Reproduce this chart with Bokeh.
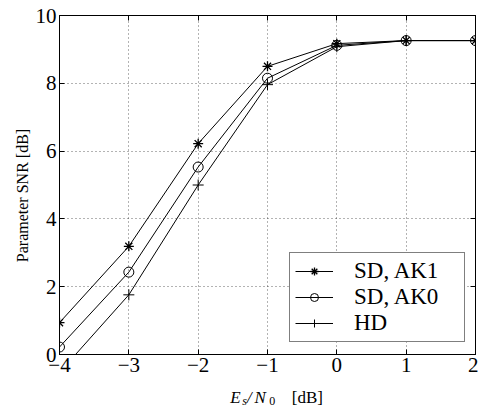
import math
from bokeh.plotting import figure
from bokeh.layouts import row, column
from bokeh.models import Range1d, LinearAxis, FixedTicker, Legend, LegendItem
from bokeh.core.properties import value
from bokeh.embed import file_html
from bokeh.resources import INLINE

x_vals = [-4, -3, -2, -1, 0, 1, 2]
sd_ak1 = [0.94, 3.19, 6.22, 8.50, 9.17, 9.26, 9.26]
sd_ak0 = [0.22, 2.43, 5.53, 8.15, 9.12, 9.26, 9.26]
hd = [-0.53, 1.76, 5.00, 7.96, 9.08, 9.26, 9.26]
x_ticks = [-4, -3, -2, -1, 0, 1, 2]
y_ticks = [0, 2, 4, 6, 8, 10]
series_names = ["SD, AK1", "SD, AK0", "HD"]
y_title = "Parameter SNR [dB]"

FONT = "Liberation Serif"
LEFT_W = 32

p = figure(width=478 - LEFT_W, height=386, output_backend="svg", toolbar_location=None,
           x_range=Range1d(-4, 2), y_range=Range1d(0, 10),
           min_border_left=57 - LEFT_W, min_border_right=3, min_border_top=15, min_border_bottom=32)
p.background_fill_color = "white"
p.border_fill_color = "white"
p.outline_line_color = "black"
p.outline_line_width = 1

for ax in (p.xaxis[0], p.yaxis[0]):
    ax.major_label_text_font = FONT
    ax.major_label_text_font_size = "21px"
    ax.major_label_text_color = "black"
    ax.major_tick_in = 5
    ax.major_tick_out = 0
    ax.minor_tick_in = 0
    ax.minor_tick_out = 0
    ax.axis_line_color = "black"
    ax.major_tick_line_color = "black"
p.xaxis[0].ticker = FixedTicker(ticks=x_ticks)
p.yaxis[0].ticker = FixedTicker(ticks=y_ticks)
p.xaxis[0].major_label_standoff = 3
p.yaxis[0].major_label_standoff = 3

top = LinearAxis(ticker=FixedTicker(ticks=x_ticks), major_label_text_font_size="0px",
                 major_label_standoff=0, major_tick_in=5, major_tick_out=0,
                 minor_tick_in=0, minor_tick_out=0, axis_line_color="black")
right = LinearAxis(ticker=FixedTicker(ticks=y_ticks), major_label_text_font_size="0px",
                   major_label_standoff=0, major_tick_in=5, major_tick_out=0,
                   minor_tick_in=0, minor_tick_out=0, axis_line_color="black")
top.major_label_text_color = None
right.major_label_text_color = None
p.add_layout(top, "above")
p.add_layout(right, "right")

p.xgrid[0].ticker = FixedTicker(ticks=x_ticks)
p.ygrid[0].ticker = FixedTicker(ticks=y_ticks)
for g in (p.xgrid[0], p.ygrid[0]):
    g.grid_line_color = "black"
    g.grid_line_alpha = 0.6
    g.grid_line_dash = "1 3"
    g.grid_line_width = 1

l1 = p.line(x_vals, sd_ak1, line_color="black", line_width=1)
m1 = p.scatter(x_vals, sd_ak1, marker="asterisk", size=10, line_color="black", line_width=1.3)
l2 = p.line(x_vals, sd_ak0, line_color="black", line_width=1)
m2 = p.scatter(x_vals, sd_ak0, marker="circle", size=10, line_color="black", fill_color=None, line_width=1)
l3 = p.line(x_vals, hd, line_color="black", line_width=1)
m3 = p.scatter(x_vals, hd, marker="cross", size=11, line_color="black", line_width=1)

legend = Legend(items=[LegendItem(label=series_names[0], renderers=[l1, m1]),
                       LegendItem(label=series_names[1], renderers=[l2, m2]),
                       LegendItem(label=series_names[2], renderers=[l3, m3])],
                location=(230, 12))
legend.label_text_font = FONT
legend.label_text_font_size = "23px"
legend.label_text_color = "black"
legend.glyph_width = 38
legend.glyph_height = 20
legend.label_height = 20
legend.label_width = 105
legend.label_standoff = 21
legend.padding = 5
legend.spacing = 0
legend.margin = 0
legend.border_line_color = "black"
legend.border_line_width = 1
legend.background_fill_color = "white"
legend.background_fill_alpha = 1
p.add_layout(legend, "center")

# y-axis title strip
pl = figure(width=LEFT_W, height=407, output_backend="svg", toolbar_location=None,
            x_range=Range1d(0, LEFT_W), y_range=Range1d(0, 407),
            x_axis_location=None, y_axis_location=None, min_border=0)
pl.grid.visible = False
pl.outline_line_color = None
pl.background_fill_color = "white"
pl.border_fill_color = "white"
pl.text(x=[22], y=[212], text=[y_title], angle=math.pi / 2, text_align="center",
        text_baseline="middle", text_font=value(FONT), text_font_size="16px", text_color="black")

# x-axis title strip: E_s/N_0 [dB]
pb = figure(width=478 - LEFT_W, height=21, output_backend="svg", toolbar_location=None,
            x_range=Range1d(LEFT_W, 478), y_range=Range1d(0, 21),
            x_axis_location=None, y_axis_location=None, min_border=0)
pb.grid.visible = False
pb.outline_line_color = None
pb.background_fill_color = "white"
pb.border_fill_color = "white"
pieces = [
    (215, 10, "E", "italic", "17px"),
    (228, 7, "s", "italic", "12px"),
    (233, 10, "/", "italic", "17px"),
    (241, 10, "N", "italic", "17px"),
    (257, 7, "0", "normal", "12px"),
    (281, 10, "[dB]", "normal", "17px"),
]
for xx, yy, t, st, sz in pieces:
    pb.text(x=[xx], y=[yy], text=[t], text_align="left", text_baseline="alphabetic",
            text_font=value(FONT), text_font_style=st, text_font_size=sz, text_color="black")

layout = row(pl, column(p, pb, spacing=0), spacing=0)
open("out.html", "w").write(file_html(layout, INLINE))
